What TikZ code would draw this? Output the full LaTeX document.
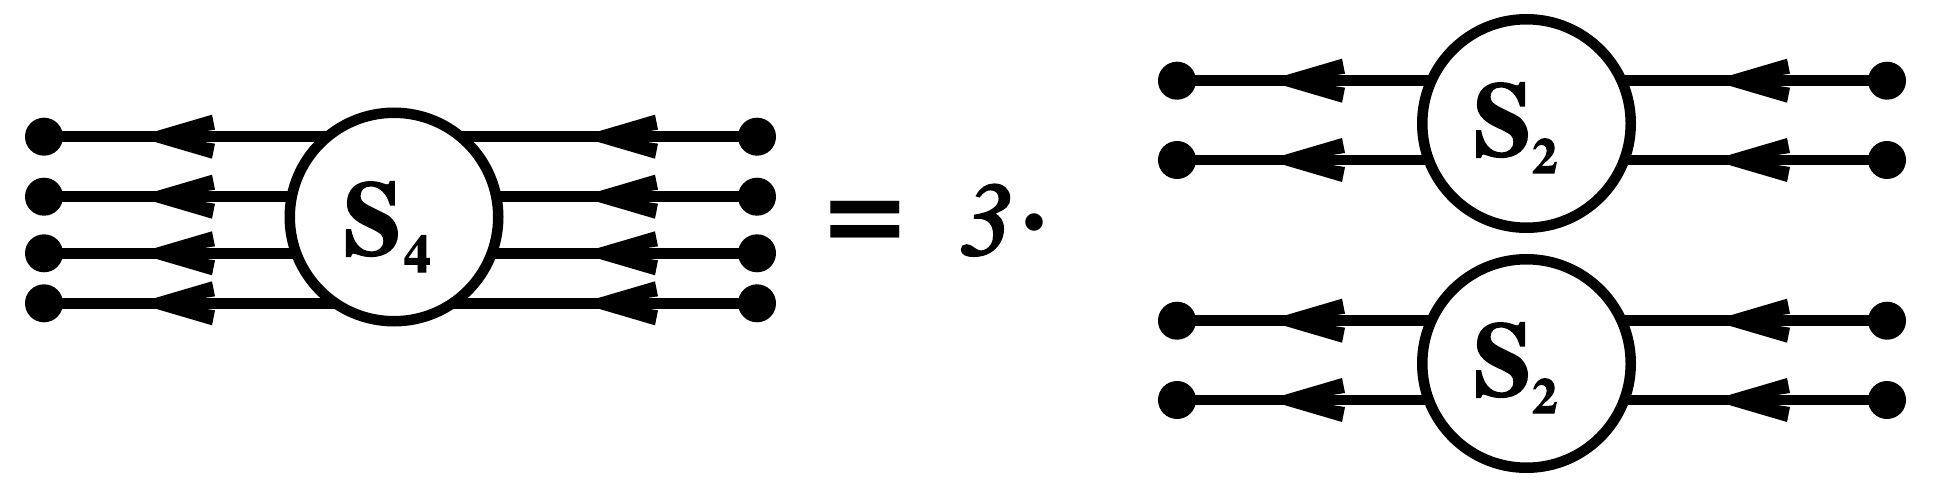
\documentclass[tikz,border=0pt]{standalone}
\usepackage{fontspec}
\setmainfont{texgyretermes}[Extension=.otf, UprightFont=*-regular, BoldFont=*-bold, ItalicFont=*-italic, BoldItalicFont=*-bolditalic]
\newfontfamily\lblfont{texgyretermes-bold.otf}[FakeBold=2.2]
\newfontfamily\numfont{texgyretermes-italic.otf}[FakeBold=2.5]
\usetikzlibrary{decorations.markings}
\newcommand{\headpath}{\fill (0,5.25) -- (-57,22) -- (-60,7) -- (-49,5.25) -- (-49,-5.25) -- (-60,-7) -- (-57,-22) -- (0,-5.25) -- cycle;}
\tikzset{
  wire/.style={line width=10.5pt},
  enddot/.style={circle, fill=black, inner sep=0pt, minimum size=38pt},
  blob/.style={circle, draw, line width=10.5pt, fill=white, minimum size=208.5pt, inner sep=0pt},
  tipfromend/.style={wire, postaction={decorate}, decoration={markings, mark=at position -#1 with {\headpath}}},
  tipfromstart/.style={wire, postaction={decorate}, decoration={markings, mark=at position #1 with {\headpath}}},
  lbl/.style={anchor=base west, inner sep=0pt},
}
\begin{document}
\begin{tikzpicture}[x=1pt,y=-1pt]
\useasboundingbox (0,0) rectangle (1938,489);
% centres
\coordinate (c4) at (394,217);
\coordinate (cA) at (1526.5,123.5);
\coordinate (cB) at (1526.5,363.5);
% end dots, main diagram
\foreach \i/\y in {1/136.7,2/196.7,3/253.3,4/303.3}{
  \node[enddot] (L\i) at (44,\y) {};
  \node[enddot] (R\i) at (757,\y) {};
}
% end dots, right groups
\node[enddot] (A1) at (1177,80.7) {};
\node[enddot] (A2) at (1177,160) {};
\node[enddot] (B1) at (1887,80.7) {};
\node[enddot] (B2) at (1887,160) {};
\node[enddot] (C1) at (1177,320.7) {};
\node[enddot] (C2) at (1177,400) {};
\node[enddot] (D1) at (1887,320.7) {};
\node[enddot] (D2) at (1887,400) {};
% wires
\foreach \i in {1,...,4}{
  \draw[tipfromend=111pt] (c4 |- L\i) -- (L\i.center);
  \draw[tipfromstart=159pt] (R\i.center) -- (c4 |- R\i);
}
\foreach \n in {A1,A2}{ \draw[tipfromend=108pt] (cA |- \n) -- (\n.center); }
\foreach \n in {B1,B2}{ \draw[tipfromstart=157pt] (\n.center) -- (cA |- \n); }
\foreach \n in {C1,C2}{ \draw[tipfromend=108pt] (cB |- \n) -- (\n.center); }
\foreach \n in {D1,D2}{ \draw[tipfromstart=157pt] (\n.center) -- (cB |- \n); }
% circles
\node[blob] (S4) at (c4) {};
\node[blob] (SA) at (cA) {};
\node[blob] (SB) at (cB) {};
% labels
\node[lbl] (t4) at (343.3,254) {\lblfont\fontsize{104}{104}\selectfont S\kern2.7pt\raisebox{-18pt}{\fontsize{53}{53}\selectfont 4}};
\node[lbl] (tA) at (1473.3,155) {\lblfont\fontsize{104}{104}\selectfont S\kern1pt\raisebox{-18pt}{\fontsize{50}{50}\selectfont 2}};
\node[lbl] (tB) at (1473.3,395) {\lblfont\fontsize{104}{104}\selectfont S\kern1pt\raisebox{-18pt}{\fontsize{50}{50}\selectfont 2}};
\node[lbl] (eq) at (824.2,255.2) {\fontsize{143}{143}\selectfont\bfseries =};
\node[lbl] (three) at (960.4,255) {\fontsize{104}{104}\selectfont{\numfont 3}\kern8.6pt\raisebox{7pt}{\bfseries ·}};
\end{tikzpicture}
\end{document}
